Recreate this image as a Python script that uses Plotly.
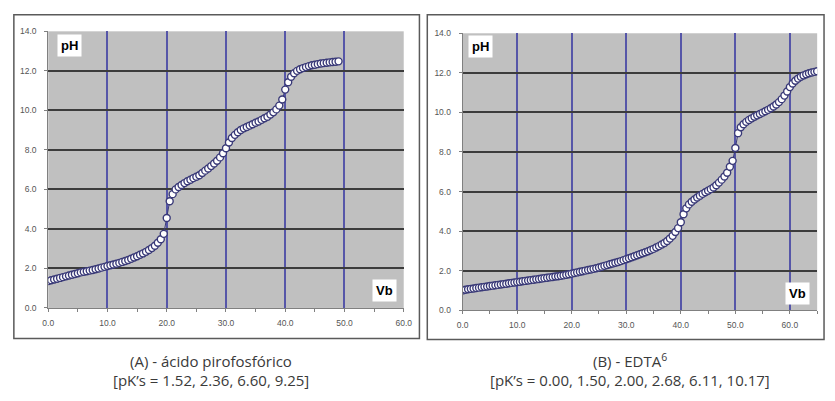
import plotly.graph_objects as go

W, H = 835, 401

# ---- data: (A) ácido pirofosfórico ----
vb_a = [0.0, 0.5, 1.0, 1.5, 2.0, 2.5, 3.0, 3.5, 4.0, 4.5,
        5.0, 5.5, 6.0, 6.5, 7.0, 7.5, 8.0, 8.5, 9.0, 9.5,
        10.0, 10.5, 11.0, 11.5, 12.0, 12.5, 13.0, 13.5, 14.0, 14.5,
        15.0, 15.5, 16.0, 16.5, 17.0, 17.5, 18.0, 18.5, 19.0, 19.5,
        20.0, 20.5, 21.0, 21.5, 22.0, 22.5, 23.0, 23.5, 24.0, 24.5,
        25.0, 25.5, 26.0, 26.5, 27.0, 27.5, 28.0, 28.5, 29.0, 29.5,
        30.0, 30.5, 31.0, 31.5, 32.0, 32.5, 33.0, 33.5, 34.0, 34.5,
        35.0, 35.5, 36.0, 36.5, 37.0, 37.5, 38.0, 38.5, 39.0, 39.5,
        40.0, 40.5, 41.0, 41.5, 42.0, 42.5, 43.0, 43.5, 44.0, 44.5,
        45.0, 45.5, 46.0, 46.5, 47.0, 47.5, 48.0, 48.5, 49.0]
ph_a = [1.36, 1.40, 1.44, 1.48, 1.52, 1.56, 1.60, 1.64, 1.68, 1.72,
        1.76, 1.80, 1.83, 1.86, 1.89, 1.92, 1.96, 2.00, 2.04, 2.08,
        2.12, 2.16, 2.20, 2.24, 2.28, 2.33, 2.38, 2.43, 2.49, 2.55,
        2.62, 2.69, 2.76, 2.84, 2.93, 3.03, 3.15, 3.30, 3.48, 3.75,
        4.55, 5.40, 5.76, 6.00, 6.12, 6.22, 6.32, 6.41, 6.49, 6.57,
        6.64, 6.72, 6.83, 6.95, 7.06, 7.18, 7.31, 7.45, 7.62, 7.83,
        8.08, 8.37, 8.60, 8.76, 8.89, 9.01, 9.09, 9.16, 9.23, 9.30,
        9.37, 9.44, 9.52, 9.60, 9.68, 9.79, 9.90, 10.05, 10.24, 10.55,
        11.05, 11.42, 11.70, 11.88, 12.00, 12.08, 12.14, 12.19, 12.24, 12.28,
        12.31, 12.34, 12.37, 12.39, 12.41, 12.43, 12.45, 12.46, 12.48]

# ---- data: (B) EDTA ----
vb_b = [0.0, 0.5, 1.0, 1.5, 2.0, 2.5, 3.0, 3.5, 4.0, 4.5,
        5.0, 5.5, 6.0, 6.5, 7.0, 7.5, 8.0, 8.5, 9.0, 9.5,
        10.0, 10.5, 11.0, 11.5, 12.0, 12.5, 13.0, 13.5, 14.0, 14.5,
        15.0, 15.5, 16.0, 16.5, 17.0, 17.5, 18.0, 18.5, 19.0, 19.5,
        20.0, 20.5, 21.0, 21.5, 22.0, 22.5, 23.0, 23.5, 24.0, 24.5,
        25.0, 25.5, 26.0, 26.5, 27.0, 27.5, 28.0, 28.5, 29.0, 29.5,
        30.0, 30.5, 31.0, 31.5, 32.0, 32.5, 33.0, 33.5, 34.0, 34.5,
        35.0, 35.5, 36.0, 36.5, 37.0, 37.5, 38.0, 38.5, 39.0, 39.5,
        40.0, 40.5, 41.0, 41.5, 42.0, 42.5, 43.0, 43.5, 44.0, 44.5,
        45.0, 45.5, 46.0, 46.5, 47.0, 47.5, 48.0, 48.5, 49.0, 49.5,
        50.0, 50.5, 51.0, 51.5, 52.0, 52.5, 53.0, 53.5, 54.0, 54.5,
        55.0, 55.5, 56.0, 56.5, 57.0, 57.5, 58.0, 58.5, 59.0, 59.5,
        60.0, 60.5, 61.0, 61.5, 62.0, 62.5, 63.0, 63.5, 64.0, 64.5,
        65.0]
ph_b = [1.00, 1.03, 1.06, 1.08, 1.10, 1.12, 1.14, 1.16, 1.18, 1.20,
        1.22, 1.24, 1.26, 1.28, 1.30, 1.32, 1.34, 1.36, 1.38, 1.40,
        1.42, 1.44, 1.46, 1.48, 1.50, 1.52, 1.54, 1.56, 1.58, 1.60,
        1.62, 1.64, 1.66, 1.68, 1.70, 1.72, 1.74, 1.76, 1.79, 1.82,
        1.85, 1.88, 1.91, 1.94, 1.97, 2.00, 2.03, 2.06, 2.09, 2.12,
        2.16, 2.20, 2.24, 2.28, 2.32, 2.36, 2.40, 2.44, 2.48, 2.53,
        2.58, 2.63, 2.68, 2.73, 2.78, 2.83, 2.88, 2.93, 2.98, 3.04,
        3.10, 3.17, 3.24, 3.32, 3.40, 3.50, 3.62, 3.76, 3.95, 4.15,
        4.45, 4.85, 5.15, 5.35, 5.48, 5.60, 5.70, 5.79, 5.88, 5.96,
        6.04, 6.12, 6.20, 6.32, 6.45, 6.60, 6.76, 6.95, 7.25, 7.55,
        8.20, 8.95, 9.25, 9.40, 9.52, 9.62, 9.70, 9.78, 9.85, 9.92,
        9.99, 10.06, 10.13, 10.21, 10.30, 10.40, 10.52, 10.67, 10.85, 11.06,
        11.28, 11.46, 11.60, 11.71, 11.80, 11.87, 11.93, 11.98, 12.02, 12.05,
        12.08]

y_ticks = [0, 2, 4, 6, 8, 10, 12, 14]
caption_a = ["(A) - ácido pirofosfórico", "[pK’s = 1.52, 2.36, 6.60, 9.25]"]
caption_b = ["(B) - EDTA<sup>6</sup>", "[pK’s = 0.00, 1.50, 2.00, 2.68, 6.11, 10.17]"]


def px(x):
    return x / W


def py(y):
    return 1 - y / H


marker = dict(size=7, color="white", line=dict(color="#3a3a78", width=1.4))
line = dict(color="#3a3a78", width=1)

fig = go.Figure()
fig.add_trace(go.Scatter(x=vb_a, y=ph_a, mode="lines+markers", marker=marker,
                         line=line, xaxis="x", yaxis="y", showlegend=False))
fig.add_trace(go.Scatter(x=vb_b, y=ph_b, mode="lines+markers", marker=marker,
                         line=line, xaxis="x2", yaxis="y2", showlegend=False))

tickfont = dict(family="Liberation Sans, Arial", size=8.5, color="#555555")
common_x = dict(dtick=10, tick0=0, tickformat=".1f", showgrid=True,
                gridcolor="#5656a8", gridwidth=1.5, zeroline=False,
                showline=True, linecolor="#808080", linewidth=1,
                ticks="outside", ticklen=3, tickcolor="#808080",
                ticklabelstandoff=4,
                minor=dict(dtick=5, ticks="outside", ticklen=3, tickcolor="#808080", showgrid=False),
                tickfont=tickfont, fixedrange=True)
common_y = dict(range=[0, 14], tickvals=y_ticks, tickformat=".1f", showgrid=True,
                gridcolor="#3c3c3c", gridwidth=1.5, zeroline=False,
                showline=True, linecolor="#808080", linewidth=1,
                ticks="outside", ticklen=3, tickcolor="#808080",
                ticklabelstandoff=6,
                tickfont=tickfont, fixedrange=True)

fig.update_layout(
    width=W, height=H,
    margin=dict(l=0, r=0, t=0, b=0),
    paper_bgcolor="white",
    plot_bgcolor="#c0c0c0",
    xaxis=dict(domain=[px(43), px(405)], range=[0, 60], anchor="y", **common_x),
    yaxis=dict(domain=[py(310.7), py(27)], anchor="x", **common_y),
    xaxis2=dict(domain=[px(465), px(826)], range=[0, 65], anchor="y2", **common_x),
    yaxis2=dict(domain=[py(313), py(29)], anchor="x2", **common_y),
)

# outer frames
for x0, x1, y0, y1 in [(8, 421, 10, 342), (429, 833, 10, 343)]:
    fig.add_shape(type="rect", xref="paper", yref="paper",
                  x0=px(x0), x1=px(x1), y0=py(y1), y1=py(y0),
                  line=dict(color="#5a5a5a", width=1.5), fillcolor="rgba(0,0,0,0)")

# in-plot label boxes
for txt, cx, cy in [("pH", 64.5, 42), ("Vb", 385, 292.5), ("pH", 483, 43), ("Vb", 806, 295.5)]:
    fig.add_annotation(xref="paper", yref="paper", x=px(cx), y=py(cy),
                       text="<b>%s</b>" % txt, showarrow=False,
                       font=dict(family="Liberation Sans, Arial", size=13, color="black"),
                       bgcolor="white", borderpad=3,
                       xanchor="center", yanchor="middle")

# captions
capfont = dict(family="Open Sans", size=15, color="#3a3a3a")
for lines, cx in [(caption_a, 209), (caption_b, 635)]:
    for txt, cy in zip(lines, [365, 385]):
        fig.add_annotation(xref="paper", yref="paper", x=px(cx), y=py(cy),
                           text=txt, showarrow=False, font=capfont,
                           xanchor="center", yanchor="middle")

fig.write_html("out.html")
